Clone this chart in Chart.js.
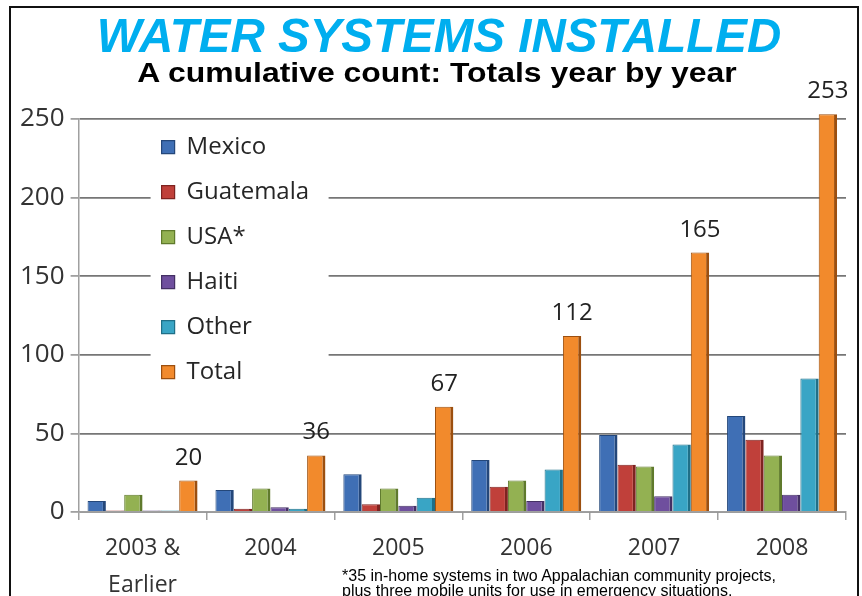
<!DOCTYPE html>
<html>
<head>
<meta charset="utf-8">
<title>Water systems installed</title>
<script src="https://cdn.jsdelivr.net/npm/chart.js@4.4.1/dist/chart.umd.min.js"></script>
<style>
  body { margin: 0; background: #fff; }
  #wrap { position: relative; width: 862px; height: 596px; overflow: hidden; }
  #frame { position: absolute; left: 9px; top: 6px; width: 846px; height: 620px; border: 2px solid #111; border-bottom: none; }
  .head { position: absolute; left: 0; text-align: center; white-space: nowrap; font-family: "Liberation Sans", Arial, sans-serif; font-weight: bold; }
  #title { top: 12px; width: 878px; font-size: 47.5px; line-height: 47px; font-style: italic; color: #00AEEF; }
  #subtitle { top: 59px; width: 874px; font-size: 28px; line-height: 28px; color: #000; transform: scaleX(1.14); }
  #note { position: absolute; left: 342px; top: 568px; font: 16px "Liberation Sans", Arial, sans-serif; line-height: 15px; color: #000; white-space: nowrap; }
</style>
</head>
<body>
<div id="wrap">
  <canvas id="myChart" width="862" height="596"></canvas>
  <div id="frame"></div>
  <div id="title" class="head">WATER SYSTEMS INSTALLED</div>
  <div id="subtitle" class="head">A cumulative count: Totals year by year</div>
  <div id="note">*35 in-home systems in two Appalachian community projects,<br>plus three mobile units for use in emergency situations.</div>
</div>
<script>
// chart data
const years = [['2003 &', 'Earlier'], '2004', '2005', '2006', '2007', '2008'];
const mexico = [7, 14, 24, 33, 49, 61];
const guatemala = [1, 2, 5, 16, 30, 46];
const usa = [11, 15, 15, 20, 29, 36];
const haiti = [1, 3, 4, 7, 10, 11];
const other = [1, 2, 9, 27, 43, 85];
const totals = [20, 36, 67, 112, 165, 253];
const yTicks = [0, 50, 100, 150, 200, 250];

// series names and colours
const seriesNames = ['Mexico', 'Guatemala', 'USA*', 'Haiti', 'Other', 'Total'];
const seriesValues = [mexico, guatemala, usa, haiti, other, totals];
const fillColors = ['#3f6fb5', '#c0403a', '#93b152', '#6f4f9e', '#39a5c5', '#f28a2c'];
const edgeColors = ['#24477a', '#7e2320', '#5f7a2c', '#443064', '#1f6f87', '#9c4f0f'];

const chartFont = 'Open Sans';

// labels above the Total bars
const totalLabels = {
  id: 'totalLabels',
  afterDatasetsDraw(chart) {
    const ctx = chart.ctx;
    // white patch behind the legend, then the legend again on top
    const lg = chart.legend;
    ctx.save();
    ctx.fillStyle = '#fff';
    ctx.fillRect(lg.left + 10, lg.top + 8, 178, 290);
    ctx.restore();
    lg.draw();

    const meta = chart.getDatasetMeta(5);
    ctx.save();
    ctx.font = '24px "' + chartFont + '"';
    ctx.fillStyle = '#222';
    ctx.textAlign = 'center';
    ctx.textBaseline = 'alphabetic';
    meta.data.forEach((bar, i) => {
      ctx.fillText(String(totals[i]), bar.x, bar.y - 16);
    });
    ctx.restore();
  }
};

// move the legend box to its spot inside the plot
const legendSpot = {
  id: 'legendSpot',
  afterLayout(chart) {
    const lg = chart.legend;
    const area = chart.chartArea;
    lg.left = area.left + 62;
    lg.top = area.top - 5;
    lg.right = lg.left + 260;
    lg.bottom = area.bottom;
  }
};

new Chart('myChart', {
  type: 'bar',
  data: {
    labels: years,
    datasets: seriesNames.map((name, i) => ({
      label: name,
      data: seriesValues[i],
      backgroundColor: fillColors[i],
      borderColor: edgeColors[i],
      borderWidth: { top: 1, right: 3, bottom: 0, left: 1 },
      borderSkipped: 'start',
      categoryPercentage: 0.86,
      barPercentage: 1.0,
      clip: false
    }))
  },
  options: {
    responsive: false,
    animation: false,
    layout: { padding: { left: 14, right: 16, top: 119, bottom: 0 } },
    plugins: {
      title: { display: false },
      legend: {
        position: 'chartArea',
        align: 'start',
        labels: {
          color: '#262626',
          font: { family: chartFont, size: 24 },
          boxWidth: 13,
          boxHeight: 13,
          padding: 21
        }
      },
      tooltip: { enabled: false }
    },
    scales: {
      x: {
        grid: { drawOnChartArea: false, offset: true, tickLength: 8, color: '#a0a0a0', lineWidth: 1.5 },
        border: { color: '#a0a0a0', width: 1.5 },
        ticks: { color: '#333', font: { family: chartFont, size: 23, lineHeight: 1.65 }, padding: 9, maxRotation: 0 },
        afterFit(scale) { scale.height = 84; }
      },
      y: {
        min: 0,
        max: 250,
        afterBuildTicks(scale) { scale.ticks = yTicks.map(v => ({ value: v })); },
        grid: { color: '#767676', lineWidth: 1.8, tickLength: 8, tickColor: '#a0a0a0' },
        border: { color: '#a0a0a0', width: 1.5 },
        ticks: { color: '#333', font: { family: chartFont, size: 26 }, padding: 6 }
      }
    }
  },
  plugins: [legendSpot, totalLabels]
});
</script>
</body>
</html>
